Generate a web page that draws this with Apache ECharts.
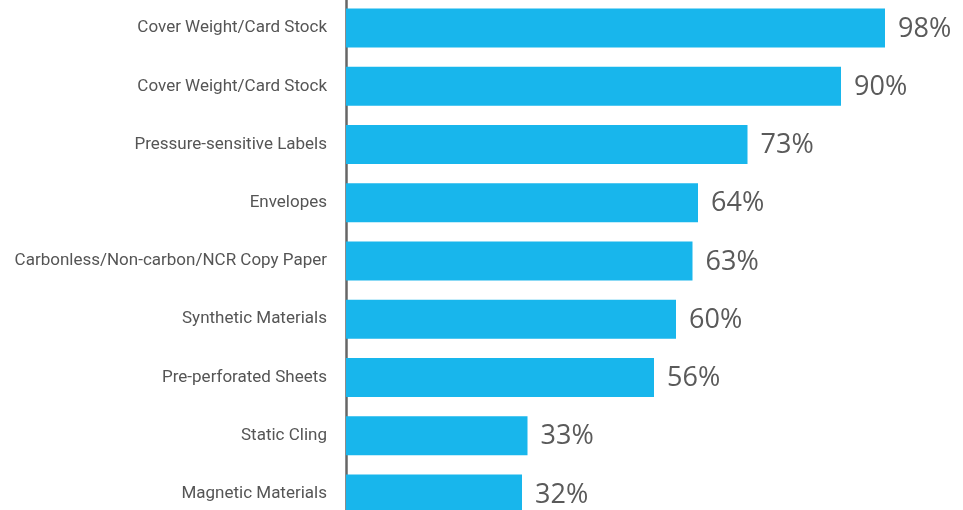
<!DOCTYPE html>
<html>
<head>
<meta charset="utf-8">
<script src="https://cdn.jsdelivr.net/npm/echarts@6/dist/echarts.min.js"></script>
<style>
  html, body { margin: 0; padding: 0; background: #fff; }
  #chart { width: 963px; height: 510px; }
</style>
</head>
<body>
<div id="chart"></div>
<script>
// 类目和数值（从上到下）
var categories = [
  'Cover Weight/Card Stock',
  'Cover Weight/Card Stock',
  'Pressure-sensitive Labels',
  'Envelopes',
  'Carbonless/Non-carbon/NCR Copy Paper',
  'Synthetic Materials',
  'Pre-perforated Sheets',
  'Static Cling',
  'Magnetic Materials'
]
var values = [98, 90, 73, 64, 63, 60, 56, 33, 32]

var myChart = echarts.init(document.getElementById('chart'))
myChart.setOption({
  animation: false,
  grid: {
    left: 346,
    width: 550,
    top: -1,
    height: 524,
    outerBoundsMode: 'none'
  },
  xAxis: {
    type: 'value',
    min: 0,
    max: 100,
    show: false
  },
  yAxis: {
    type: 'category',
    inverse: true,
    data: categories,
    axisLine: {
      show: true,
      lineStyle: { color: '#666', width: 2.5 }
    },
    axisTick: { show: false },
    axisLabel: {
      margin: 19,
      color: '#555',
      fontSize: 17,
      fontFamily: 'Roboto',
      padding: [6, 0, 0, 0],
      formatter: function (val, idx) {
        return categories[idx]
      }
    }
  },
  series: [
    {
      type: 'bar',
      data: values,
      barCategoryGap: '33%',
      itemStyle: { color: '#18b6ec' },
      label: {
        show: true,
        position: 'right',
        distance: 13,
        offset: [0, 1],
        color: '#5a5a5a',
        fontSize: 27,
        fontFamily: 'Open Sans',
        formatter: '{c}%'
      }
    }
  ]
})
</script>
</body>
</html>
